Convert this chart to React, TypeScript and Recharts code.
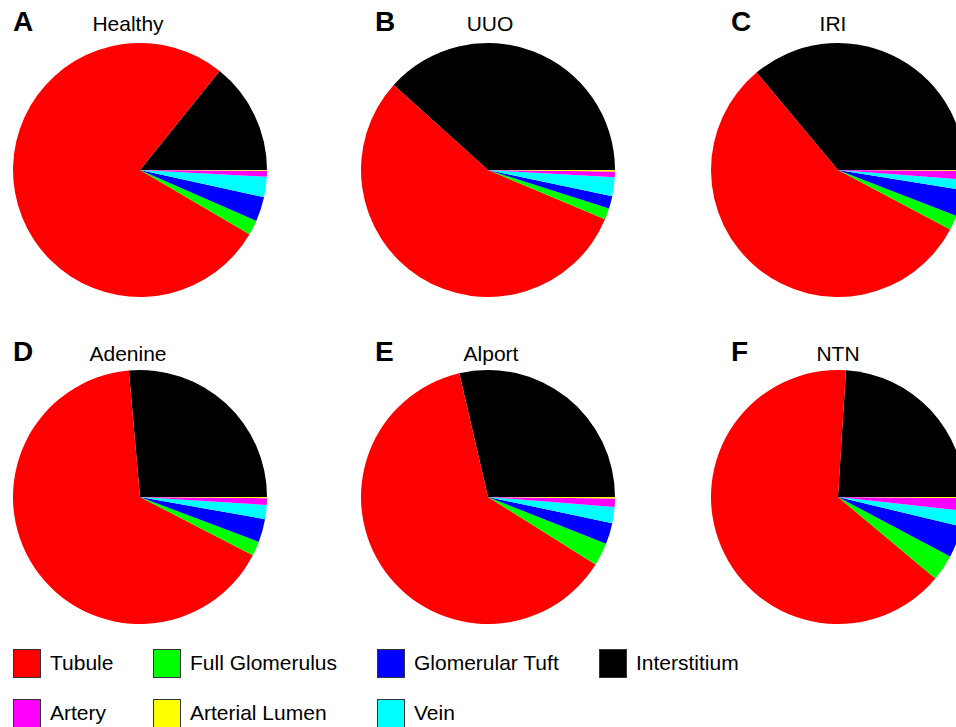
import { PieChart, Pie, Cell } from 'recharts';

// slice order drawn counter-clockwise from 3 o'clock
const categories = ['Interstitium', 'Tubule', 'Full Glomerulus', 'Glomerular Tuft', 'Vein', 'Artery', 'Arterial Lumen'];
const colors = ['#000000', '#ff0000', '#00ff00', '#0000ff', '#00ffff', '#ff00ff', '#ffff00'];

// percentages, same order as categories
const healthy = [14.2, 77.3, 1.9, 3.1, 2.6, 0.75, 0.1];
const uuo = [38.3, 55.3, 1.45, 1.6, 2.4, 0.7, 0.2];
const iri = [36.1, 56.2, 1.85, 3.35, 1.35, 1.1, 0.1];
const adenine = [26.4, 66.0, 1.85, 2.95, 1.8, 0.85, 0.15];
const alport = [28.6, 62.4, 2.9, 2.7, 2.05, 1.05, 0.2];
const ntn = [24.0, 64.9, 3.35, 4.0, 2.0, 1.6, 0.15];

const panelLetters = ['A', 'B', 'C', 'D', 'E', 'F'];
const panelTitles = ['Healthy', 'UUO', 'IRI', 'Adenine', 'Alport', 'NTN'];
const panelValues = [healthy, uuo, iri, adenine, alport, ntn];

// legend order as shown under the charts
const legendRows = [
    ['Tubule', 'Full Glomerulus', 'Glomerular Tuft', 'Interstitium'],
    ['Artery', 'Arterial Lumen', 'Vein'],
];

const font = '"Liberation Sans", Arial, Helvetica, sans-serif';
const letterX = [13, 375, 731];
const titleCenters = [128, 490, 833, 128, 491, 838];
const centerX = [140, 488, 838];
const centerY = [170, 497];
const titleY = [8, 338];
const legendX = [13, 153, 377, 599];
const legendY = [648, 698];
const M = 5; // recharts default chart margin

export default function App() {
    return (
        <div style={{ position: 'absolute', left: 0, top: 0, width: 956, height: 727, background: '#fff', fontFamily: font, overflow: 'hidden' }}>
            <PieChart width={956} height={640} style={{ position: 'absolute', left: 0, top: 0 }}>
                {panelValues.map((vals, i) => (
                    <Pie
                        key={panelTitles[i]}
                        data={vals.map((v, j) => ({ name: categories[j], value: v }))}
                        dataKey="value"
                        cx={centerX[i % 3] - M}
                        cy={centerY[Math.floor(i / 3)] - M}
                        innerRadius={0}
                        outerRadius={127}
                        startAngle={0}
                        endAngle={360}
                        stroke="none"
                        isAnimationActive={false}
                    >
                        {vals.map((_, j) => (
                            <Cell key={j} fill={colors[j]} />
                        ))}
                    </Pie>
                ))}
            </PieChart>

            {panelTitles.map((t, i) => {
                const row = Math.floor(i / 3);
                const col = i % 3;
                return (
                    <div key={t}>
                        <div style={{ position: 'absolute', left: letterX[col], top: titleY[row], fontSize: 28, fontWeight: 'bold', lineHeight: '28px', color: '#000' }}>
                            {panelLetters[i]}
                        </div>
                        <div style={{ position: 'absolute', left: titleCenters[i] - 100, width: 200, top: titleY[row] + 2, fontSize: 21, lineHeight: '28px', textAlign: 'center', color: '#000' }}>
                            {t}
                        </div>
                    </div>
                );
            })}

            {legendRows.map((row, r) =>
                row.map((name, c) => (
                    <div key={name} style={{ position: 'absolute', left: legendX[c], top: legendY[r], display: 'flex', alignItems: 'center', height: 30 }}>
                        <div style={{ width: 28, height: 29, background: colors[categories.indexOf(name)], border: '1px solid #333', boxSizing: 'border-box' }} />
                        <span style={{ marginLeft: 9, fontSize: 21, color: '#000' }}>{name}</span>
                    </div>
                ))
            )}
        </div>
    );
}
